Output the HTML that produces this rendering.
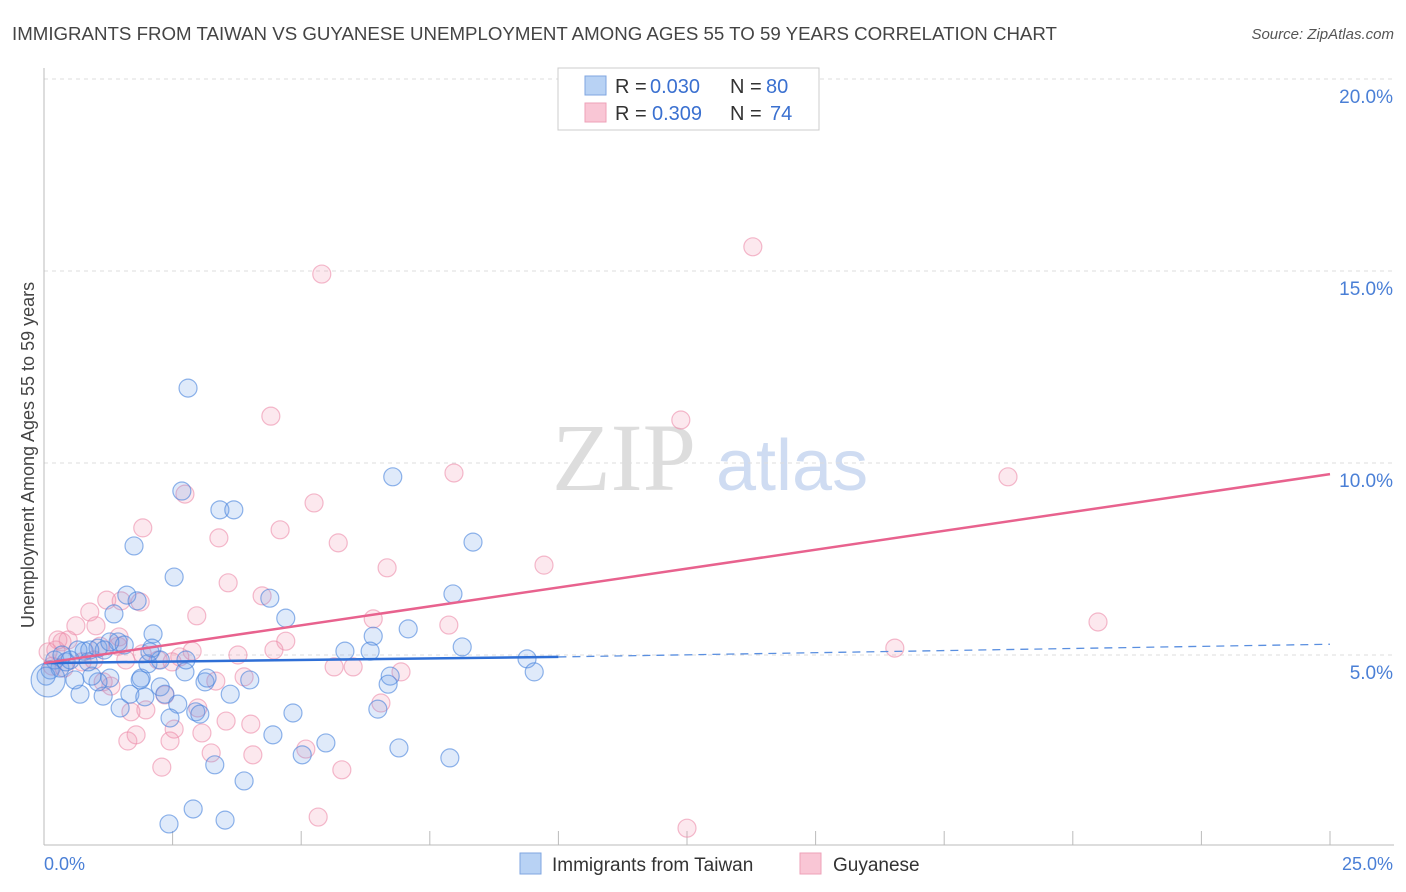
<!DOCTYPE html>
<html><head><meta charset="utf-8">
<style>
body{margin:0;background:#fff;font-family:"Liberation Sans",sans-serif;}
svg{display:block}
</style></head>
<body>
<svg id="chart" width="1406" height="892">
<text x="12" y="40" font-size="18.7" fill="#444">IMMIGRANTS FROM TAIWAN VS GUYANESE UNEMPLOYMENT AMONG AGES 55 TO 59 YEARS CORRELATION CHART</text>
<text x="1394" y="39" font-size="15" fill="#555" font-style="italic" text-anchor="end">Source: ZipAtlas.com</text>
<g>
<text x="552" y="490" font-family="Liberation Serif,serif" font-size="96" fill="#ddd">ZIP</text>
<text x="716" y="490" font-size="72" fill="#cfdcf2">atlas</text>
</g>
<g id="grid"></g>
<g id="axes"></g>
<g id="pts"></g>
<g id="lines"></g>
<text transform="translate(34,455) rotate(-90)" font-size="18" fill="#444" text-anchor="middle">Unemployment Among Ages 55 to 59 years</text>
<text x="44" y="870" font-size="18" fill="#4a7fd6">0.0%</text>
<text x="1393" y="870" font-size="18" fill="#4a7fd6" text-anchor="end">25.0%</text>
<g>
<rect x="558" y="68" width="261" height="62" fill="#fff" stroke="#ccc"/>
<rect x="585" y="76" width="21" height="19" fill="#b8d2f4" stroke="#7fa6e0"/>
<rect x="585" y="103" width="21" height="19" fill="#f9c6d5" stroke="#eea1b8"/>
<text x="615" y="93" font-size="20" fill="#333">R =</text>
<text x="650" y="93" font-size="20" fill="#3a70d0">0.030</text>
<text x="730" y="93" font-size="20" fill="#333">N =</text>
<text x="766" y="93" font-size="20" fill="#3a70d0">80</text>
<text x="615" y="120" font-size="20" fill="#333">R =</text>
<text x="652" y="120" font-size="20" fill="#3a70d0">0.309</text>
<text x="730" y="120" font-size="20" fill="#333">N =</text>
<text x="770" y="120" font-size="20" fill="#3a70d0">74</text>
</g>
<g>
<rect x="520" y="853" width="21" height="21" fill="#b8d2f4" stroke="#7fa6e0"/>
<text x="552" y="871" font-size="19" fill="#333">Immigrants from Taiwan</text>
<rect x="800" y="853" width="21" height="21" fill="#f9c6d5" stroke="#eea1b8"/>
<text x="833" y="871" font-size="19" fill="#333">Guyanese</text>
</g>
</svg>
<script>
const yTicks=[5,10,15,20];
const yTickLabels=["5.0%","10.0%","15.0%","20.0%"];
const xTicks=[0,2.5,5,7.5,10,12.5,15,17.5,20,22.5,25];
const blueX=[2.80,2.68,3.42,3.69,6.78,1.75,8.34,2.53,1.61,1.81,7.95,4.39,4.70,7.08,2.12,6.40,8.13,5.85,6.34,9.39,9.53,6.73,6.69,6.49,4.84,5.48,4.45,5.02,6.90,7.89,3.32,3.89,2.90,2.43,3.52,1.36,1.05,1.44,1.56,0.78,0.70,1.15,1.48,1.67,1.96,2.26,2.35,2.60,2.45,2.95,3.03,3.13,3.17,3.62,4.00,2.74,2.02,1.89,1.28,1.05,0.93,0.60,0.31,0.21,0.12,0.04,0.43,0.51,0.86,1.17,1.28,0.66,0.35,2.10,2.26,2.76,2.06,0.89,1.87,0.08];
const blueY=[11.95,9.27,8.78,8.78,9.64,7.84,7.94,7.03,6.56,6.41,6.59,6.48,5.96,5.68,5.55,5.49,5.21,5.10,5.10,4.90,4.56,4.45,4.24,3.59,3.49,2.71,2.92,2.40,2.58,2.32,2.14,1.72,0.99,0.60,0.70,6.07,5.18,5.34,5.26,5.10,3.98,3.93,3.62,3.98,3.91,4.17,3.98,3.72,3.36,3.52,3.46,4.30,4.40,3.98,4.35,4.56,4.77,4.40,4.40,4.30,4.45,4.35,4.66,4.87,4.61,4.45,4.82,4.87,4.82,5.13,5.34,5.13,5.00,5.18,4.87,4.87,5.08,5.13,4.35,4.35];
const pinkX=[13.78,5.40,4.41,12.38,7.97,18.74,2.74,5.25,1.92,4.59,3.40,5.72,6.67,9.72,3.58,4.24,1.87,1.22,1.50,2.97,6.40,0.89,7.87,20.49,0.62,1.01,4.70,16.54,0.35,0.47,1.46,3.77,4.47,2.88,2.64,1.59,2.22,5.64,6.01,6.94,3.89,3.34,1.30,1.15,2.35,6.55,2.99,1.98,1.69,3.54,4.02,2.53,3.07,1.63,1.79,2.45,3.25,4.06,5.09,2.29,5.79,5.33,12.50,0.23,0.16,0.39,0.74,0.97,0.08,1.09,1.44,2.49,1.91,0.27];
const pinkY=[15.63,14.92,11.22,11.12,9.74,9.64,9.19,8.96,8.31,8.26,8.05,7.92,7.27,7.34,6.88,6.54,6.38,6.43,6.41,6.02,5.94,6.12,5.78,5.86,5.76,5.76,5.36,5.18,5.34,5.39,5.47,5.00,5.13,5.10,4.95,4.87,4.87,4.69,4.69,4.56,4.43,4.32,4.19,4.30,3.96,3.75,3.62,3.57,3.52,3.28,3.20,3.07,2.97,2.76,2.92,2.76,2.45,2.40,2.55,2.08,2.01,0.78,0.49,5.13,4.71,4.66,4.82,4.87,5.08,5.23,5.23,4.82,5.03,5.39];
const blueTrend=[4.79,4.95,5.28]; // at x=0,10,25
const pinkTrend=[4.79,9.71]; // at x=0,25
const NS="http://www.w3.org/2000/svg";
const sx=v=>44+v/25*1286, sy=v=>847-v*38.4;
function mk(tag,attrs,parent){const e=document.createElementNS(NS,tag);for(const k in attrs)e.setAttribute(k,attrs[k]);document.getElementById(parent).appendChild(e);return e;}
yTicks.forEach((t,i)=>{
 const l=mk('line',{x1:44,x2:1394,y1:sy(t),y2:sy(t),stroke:'#ddd','stroke-dasharray':'4,4'},'grid');
 
 
 const tx=mk('text',{x:1393,y:sy(t)+24,'font-size':19,fill:'#4a7fd6','text-anchor':'end'},'axes');
 tx.textContent=yTickLabels[i];
 
 
});
const ax=mk('line',{x1:44,x2:44,y1:68,y2:845,stroke:'#bbb'},'axes');


const bx=mk('line',{x1:44,x2:1394,y1:845,y2:845,stroke:'#bbb'},'axes');


xTicks.forEach(t=>{
 const l=mk('line',{x1:sx(t),x2:sx(t),y1:831,y2:845,stroke:'#bbb'},'axes');
 
 
});
function pts(X,Y,fill,stroke,name){
 X.forEach((x,i)=>{
  const big=(name==='taiwan-point'&&i===X.length-1);
  const c=mk('circle',{cx:sx(x),cy:sy(Y[i]),r:big?17:9,fill:fill,stroke:stroke,'stroke-width':1.2},'pts');
  
  
 });
}
pts(pinkX,pinkY,'rgba(242,150,178,0.22)','rgba(236,140,170,0.6)','guyanese-point');
pts(blueX,blueY,'rgba(110,160,230,0.22)','rgba(70,130,220,0.6)','taiwan-point');
const bl=mk('line',{x1:sx(0),y1:sy(blueTrend[0]),x2:sx(10),y2:sy(blueTrend[1]),stroke:'#2f6fd6','stroke-width':2.5},'lines');


const bd=mk('line',{x1:sx(10),y1:sy(blueTrend[1]),x2:sx(25),y2:sy(blueTrend[2]),stroke:'#5a8fe0','stroke-width':1.3,'stroke-dasharray':'8,6'},'lines');


const pl=mk('line',{x1:sx(0),y1:sy(pinkTrend[0]),x2:sx(25),y2:sy(pinkTrend[1]),stroke:'#e8628e','stroke-width':2.5},'lines');


</script>
</body></html>
